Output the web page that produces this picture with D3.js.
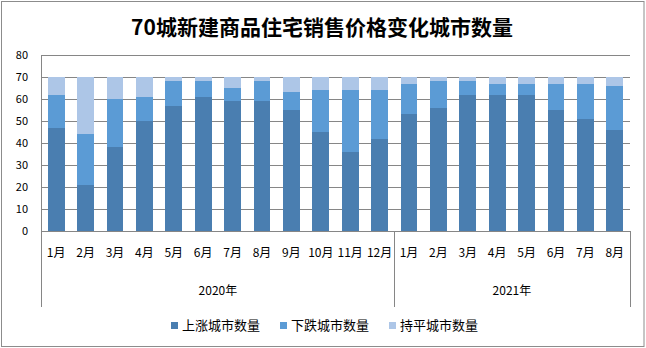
<!DOCTYPE html>
<html>
<head>
<meta charset="utf-8">
<script src="https://cdn.jsdelivr.net/npm/d3@7"></script>
<style>
  html, body { margin: 0; padding: 0; background: #fff; }
  svg { display: block; }
</style>
</head>
<body>
<svg id="chart" width="646" height="348"></svg>
<script>
// Monthly counts of the 70 cities by direction of new-home price change
const months = ["1月","2月","3月","4月","5月","6月","7月","8月","9月","10月","11月","12月",
                "1月","2月","3月","4月","5月","6月","7月","8月"];
const years = [
  { label: "2020年", count: 12 },
  { label: "2021年", count: 8 }
];
const upCounts   = [47, 21, 38, 50, 57, 61, 59, 59, 55, 45, 36, 42, 53, 56, 62, 62, 62, 55, 51, 46];
const downCounts = [15, 23, 22, 11, 11,  7,  6,  9,  8, 19, 28, 22, 14, 12,  6,  5,  5, 12, 16, 20];
const flatCounts = [ 8, 26, 10,  9,  2,  2,  5,  2,  7,  6,  6,  6,  3,  2,  2,  3,  3,  3,  3,  4];
const seriesNames = ["上涨城市数量", "下跌城市数量", "持平城市数量"];
const yTicks = [0, 10, 20, 30, 40, 50, 60, 70, 80];
const chartTitle = "70城新建商品住宅销售价格变化城市数量";

const colors = ["#4a7eb0", "#5b9bd5", "#adc6e7"];
const gridColor = "#868686";
const font = "'Noto Sans CJK SC', 'Noto Sans', sans-serif";

const svg = d3.select("#chart");
const W = 646, H = 348;
const plot = { left: 41.5, right: 629.5, top: 55, bottom: 231 };
const catBottom = 307;

// outer frame
svg.append("rect")
  .attr("x", 1.5).attr("y", 1.5)
  .attr("width", W - 3.5).attr("height", H - 3)
  .attr("fill", "#fff").attr("stroke", "#8c8c8c").attr("stroke-width", 1);

// title
svg.append("text")
  .attr("x", 322).attr("y", 35)
  .attr("text-anchor", "middle")
  .attr("font-family", font).attr("font-weight", "bold")
  .attr("font-size", 21).attr("fill", "#000")
  .text(chartTitle);

const idx = d3.range(months.length);
const x = d3.scaleBand()
  .domain(idx)
  .range([plot.left, plot.right])
  .paddingInner(0.43)
  .paddingOuter(0.215);

const y = d3.scaleLinear().domain([0, 80]).range([plot.bottom, plot.top]);

// horizontal gridlines
svg.append("g").selectAll("line")
  .data(yTicks.filter(t => t > 0))
  .join("line")
  .attr("x1", plot.left).attr("x2", plot.right + 0.5)
  .attr("y1", d => Math.round(y(d)) + 0.5).attr("y2", d => Math.round(y(d)) + 0.5)
  .attr("stroke", gridColor).attr("stroke-width", 1);

// y-axis tick labels
svg.append("g").selectAll("text")
  .data(yTicks)
  .join("text")
  .attr("x", 28).attr("y", d => y(d) + 4)
  .attr("text-anchor", "end")
  .attr("font-family", font).attr("font-size", 11).attr("fill", "#000")
  .text(d => d);

// stacked bars
const rows = idx.map(i => ({ i, up: upCounts[i], down: downCounts[i], flat: flatCounts[i] }));
const stack = d3.stack().keys(["up", "down", "flat"]);
const layers = stack(rows);

svg.append("g")
  .attr("shape-rendering", "crispEdges")
  .selectAll("g")
  .data(layers)
  .join("g")
  .attr("fill", (d, k) => colors[k])
  .selectAll("rect")
  .data(d => d)
  .join("rect")
  .attr("x", d => x(d.data.i))
  .attr("width", x.bandwidth())
  .attr("y", d => y(d[1]))
  .attr("height", d => y(d[0]) - y(d[1]));

// axes lines
const axis = svg.append("g").attr("stroke", gridColor).attr("stroke-width", 1);
axis.append("line")
  .attr("x1", plot.left).attr("x2", plot.right + 0.5)
  .attr("y1", plot.bottom + 0.5).attr("y2", plot.bottom + 0.5);
axis.append("line")
  .attr("x1", plot.left).attr("x2", plot.left)
  .attr("y1", plot.top).attr("y2", catBottom);

// year group separators and labels
let start = 0;
years.forEach(g => {
  const x0 = x(start) - x.step() * x.paddingInner() / 2;
  const x1 = x(start + g.count - 1) + x.bandwidth() + x.step() * x.paddingInner() / 2;
  axis.append("line")
    .attr("x1", Math.round(x1) + 0.5).attr("x2", Math.round(x1) + 0.5)
    .attr("y1", plot.bottom).attr("y2", catBottom);
  svg.append("text")
    .attr("x", (x0 + x1) / 2).attr("y", 295)
    .attr("text-anchor", "middle")
    .attr("font-family", font).attr("font-size", 12).attr("fill", "#000")
    .text(g.label);
  start += g.count;
});

// month labels
svg.append("g").selectAll("text")
  .data(idx)
  .join("text")
  .attr("x", i => x(i) + x.bandwidth() / 2)
  .attr("y", 257)
  .attr("text-anchor", "middle")
  .attr("font-family", font).attr("font-size", 12).attr("fill", "#000")
  .text(i => months[i]);

// legend
const legend = svg.append("g");
seriesNames.forEach((name, k) => {
  const lx = 171 + k * 109;
  legend.append("rect")
    .attr("x", lx).attr("y", 322)
    .attr("width", 7).attr("height", 7)
    .attr("fill", colors[k]);
  legend.append("text")
    .attr("x", lx + 11).attr("y", 330)
    .attr("font-family", font).attr("font-size", 13).attr("fill", "#000")
    .text(name);
});
</script>
</body>
</html>
